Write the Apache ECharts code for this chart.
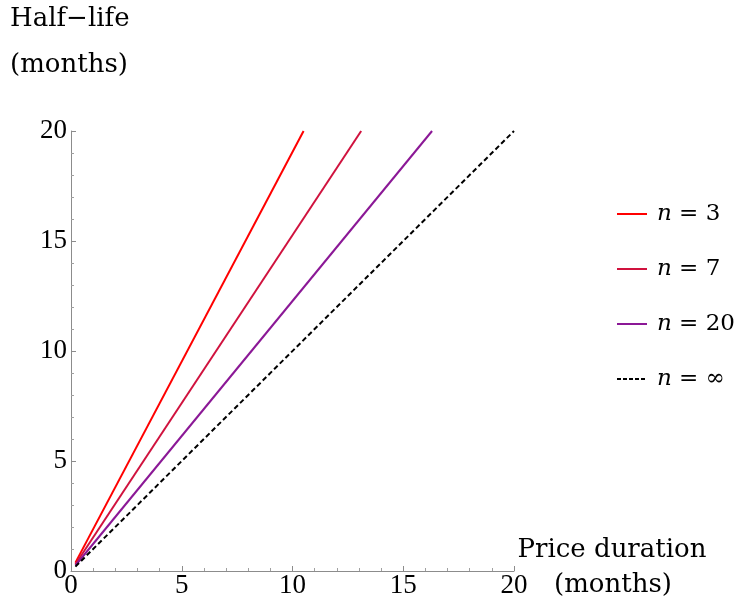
<!DOCTYPE html>
<html>
<head>
<meta charset="utf-8">
<script src="https://cdn.jsdelivr.net/npm/echarts@6/dist/echarts.min.js"></script>
<style>html,body{margin:0;padding:0;background:#fff}#c{width:740px;height:603px}</style>
</head>
<body>
<div id="c"></div>
<script>
// Data (price duration in months -> half-life in months)
const seriesNames = ['3', '7', '20', '∞'];
const n3X = [0.2, 10.5];   const n3Y = [0.38, 20];
const n7X = [0.2, 13.1];   const n7Y = [0.31, 20];
const n20X = [0.2, 16.3];  const n20Y = [0.25, 20];
const nInfX = [0.2, 20];   const nInfY = [0.2, 20];
const tickValues = [0, 5, 10, 15, 20];
const colors = ['#ff0000', '#d0123e', '#8b1896', '#000000'];

const xs = [n3X, n7X, n20X, nInfX];
const ys = [n3Y, n7Y, n20Y, nInfY];

const chart = echarts.init(document.getElementById('c'));
const serif = 'DejaVu Serif';
const tickFont = 'Liberation Serif';

const solidIcon = 'path://M0,0H30V2H0Z';
const dashedIcon = 'path://M0,0H4V2H0Z M6,0H10V2H6Z M12,0H16V2H12Z M18,0H22V2H18Z M24,0H28V2H24Z M30,0H30V2H30Z';

const series = seriesNames.map((n, i) => ({
  name: n,
  type: 'line',
  symbol: 'none',
  showSymbol: false,
  silent: true,
  data: xs[i].map((x, k) => [x, ys[i][k]]),
  lineStyle: {
    color: colors[i],
    width: 2,
    type: i === 3 ? [5, 3] : 'solid'
  },
  itemStyle: { color: colors[i] }
}));

const axisCommon = {
  type: 'value',
  min: tickValues[0],
  max: tickValues[tickValues.length - 1],
  interval: 5,
  axisLine: { show: true, lineStyle: { color: '#8c8c8c', width: 1 } },
  axisTick: { show: true, inside: true, length: 5, lineStyle: { color: '#8c8c8c' } },
  minorTick: { show: true, splitNumber: 5, length: 3, lineStyle: { color: '#a0a0a0' } },
  splitLine: { show: false },
  minorSplitLine: { show: false }
};

chart.setOption({
  animation: false,
  backgroundColor: '#ffffff',
  grid: { left: 71, right: 226, top: 131, bottom: 32, outerBoundsMode: 'none' },
  xAxis: Object.assign({}, axisCommon, {
    axisLabel: { fontFamily: tickFont, fontSize: 27, color: '#000', margin: 1 }
  }),
  yAxis: Object.assign({}, axisCommon, {
    axisLabel: { fontFamily: tickFont, fontSize: 27, color: '#000', margin: 4 }
  }),
  legend: {
    orient: 'vertical',
    left: 612,
    top: 197,
    itemWidth: 30,
    itemHeight: 2,
    itemGap: 31,
    selectedMode: false,
    data: seriesNames.map((n, i) => ({ name: n, icon: i === 3 ? dashedIcon : solidIcon })),
    formatter: n => '{i|n} = ' + n,
    textStyle: {
      fontFamily: serif,
      fontSize: 23,
      color: '#000',
      lineHeight: 24,
      padding: [0, 0, 0, 5],
      rich: {
        i: { fontFamily: serif, fontStyle: 'italic', fontSize: 23, color: '#000' }
      }
    }
  },
  graphic: [
    { type: 'text', left: 10, top: 6, silent: true,
      style: { text: 'Half−life', font: '26px "DejaVu Serif"', fill: '#000' } },
    { type: 'text', left: 10, top: 52, silent: true,
      style: { text: '(months)', font: '26px "DejaVu Serif"', fill: '#000' } },
    { type: 'text', x: 612, y: 550, silent: true,
      style: { text: 'Price duration', font: '26px "DejaVu Serif"', fill: '#000', align: 'center', verticalAlign: 'middle' } },
    { type: 'text', x: 613, y: 585, silent: true,
      style: { text: '(months)', font: '26px "DejaVu Serif"', fill: '#000', align: 'center', verticalAlign: 'middle' } }
  ],
  series: series
});
</script>
</body>
</html>
